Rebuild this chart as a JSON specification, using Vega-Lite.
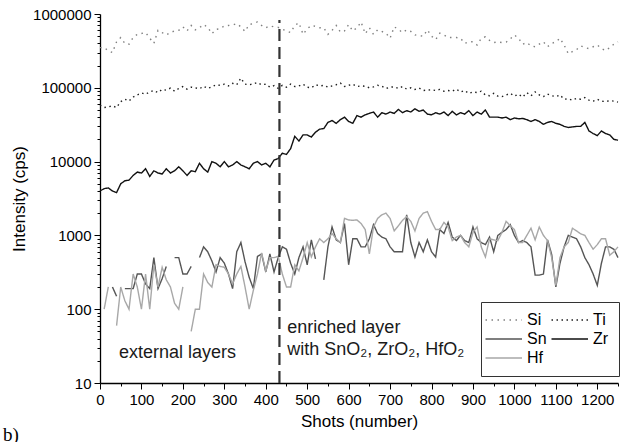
{
"$schema": "https://vega.github.io/schema/vega-lite/v6.json",
"width": 518, "height": 369,
"autosize": {"type": "none"},
"padding": {"left": 100, "top": 14, "right": 4, "bottom": 59},
"background": "#ffffff",
"config": {"view": {"stroke": null}, "font": "Liberation Sans",
 "axis": {"domainColor": "#000", "domainWidth": 1.3, "tickColor": "#000", "tickWidth": 1, "labelFont": "Liberation Sans", "labelFontSize": 15, "labelColor": "#000", "titleFont": "Liberation Sans", "titleFontSize": 17, "titleFontWeight": "normal", "titleColor": "#000", "grid": false, "labelOverlap": false, "labelFlush": false}},
"title": {"text": "b)", "orient": "bottom", "anchor": "start", "frame": "group", "font": "Liberation Serif", "fontSize": 19, "fontWeight": "normal", "color": "#000", "dx": -97, "offset": -3, "baseline": "top"},
"datasets": {
"series": [
{"shot":0,"Si":350000,"Ti":58000,"Zr":4000,"Sn":null,"Hf":null},
{"shot":10,"Si":350000,"Ti":54000,"Zr":4300,"Sn":null,"Hf":100},
{"shot":20,"Si":320000,"Ti":55000,"Zr":4400,"Sn":null,"Hf":200},
{"shot":30,"Si":300000,"Ti":57000,"Zr":4000,"Sn":200,"Hf":null},
{"shot":40,"Si":420000,"Ti":54000,"Zr":3800,"Sn":150,"Hf":60},
{"shot":50,"Si":480000,"Ti":65000,"Zr":5000,"Sn":null,"Hf":200},
{"shot":60,"Si":400000,"Ti":70000,"Zr":5500,"Sn":190,"Hf":130},
{"shot":70,"Si":390000,"Ti":66000,"Zr":5600,"Sn":190,"Hf":100},
{"shot":80,"Si":480000,"Ti":75000,"Zr":6500,"Sn":190,"Hf":300},
{"shot":90,"Si":530000,"Ti":80000,"Zr":7200,"Sn":300,"Hf":200},
{"shot":100,"Si":545000,"Ti":85000,"Zr":7000,"Sn":300,"Hf":100},
{"shot":110,"Si":560000,"Ti":82000,"Zr":8000,"Sn":220,"Hf":300},
{"shot":120,"Si":470000,"Ti":88000,"Zr":6300,"Sn":190,"Hf":100},
{"shot":130,"Si":400000,"Ti":92000,"Zr":7500,"Sn":500,"Hf":400},
{"shot":140,"Si":600000,"Ti":86000,"Zr":7000,"Sn":190,"Hf":200},
{"shot":150,"Si":560000,"Ti":95000,"Zr":6800,"Sn":260,"Hf":370},
{"shot":160,"Si":520000,"Ti":93000,"Zr":8000,"Sn":380,"Hf":250},
{"shot":170,"Si":560000,"Ti":99000,"Zr":7000,"Sn":null,"Hf":200},
{"shot":180,"Si":590000,"Ti":90000,"Zr":7500,"Sn":500,"Hf":120},
{"shot":190,"Si":600000,"Ti":98000,"Zr":8500,"Sn":500,"Hf":100},
{"shot":200,"Si":670000,"Ti":104000,"Zr":7500,"Sn":300,"Hf":200},
{"shot":210,"Si":590000,"Ti":96000,"Zr":6500,"Sn":300,"Hf":null},
{"shot":220,"Si":700000,"Ti":102000,"Zr":7500,"Sn":380,"Hf":50},
{"shot":230,"Si":610000,"Ti":100000,"Zr":7300,"Sn":null,"Hf":100},
{"shot":240,"Si":650000,"Ti":97000,"Zr":9500,"Sn":500,"Hf":100},
{"shot":250,"Si":720000,"Ti":105000,"Zr":8000,"Sn":700,"Hf":300},
{"shot":260,"Si":660000,"Ti":98000,"Zr":7200,"Sn":600,"Hf":230},
{"shot":270,"Si":540000,"Ti":103000,"Zr":10000,"Sn":450,"Hf":200},
{"shot":280,"Si":620000,"Ti":110000,"Zr":9500,"Sn":320,"Hf":400},
{"shot":290,"Si":630000,"Ti":108000,"Zr":8500,"Sn":500,"Hf":380},
{"shot":300,"Si":690000,"Ti":112000,"Zr":10000,"Sn":420,"Hf":370},
{"shot":310,"Si":700000,"Ti":106000,"Zr":8500,"Sn":300,"Hf":300},
{"shot":320,"Si":710000,"Ti":115000,"Zr":9000,"Sn":190,"Hf":220},
{"shot":330,"Si":740000,"Ti":110000,"Zr":10000,"Sn":600,"Hf":300},
{"shot":340,"Si":670000,"Ti":135000,"Zr":9000,"Sn":800,"Hf":380},
{"shot":350,"Si":580000,"Ti":112000,"Zr":8500,"Sn":440,"Hf":200},
{"shot":360,"Si":720000,"Ti":110000,"Zr":8000,"Sn":270,"Hf":100},
{"shot":370,"Si":740000,"Ti":113000,"Zr":9500,"Sn":190,"Hf":180},
{"shot":380,"Si":780000,"Ti":118000,"Zr":10000,"Sn":520,"Hf":300},
{"shot":390,"Si":700000,"Ti":110000,"Zr":9000,"Sn":560,"Hf":580},
{"shot":400,"Si":650000,"Ti":112000,"Zr":9500,"Sn":320,"Hf":330},
{"shot":410,"Si":690000,"Ti":102000,"Zr":8500,"Sn":560,"Hf":500},
{"shot":420,"Si":670000,"Ti":107000,"Zr":10500,"Sn":320,"Hf":500},
{"shot":430,"Si":660000,"Ti":98000,"Zr":11000,"Sn":500,"Hf":520},
{"shot":440,"Si":620000,"Ti":108000,"Zr":13000,"Sn":700,"Hf":300},
{"shot":450,"Si":590000,"Ti":102000,"Zr":12500,"Sn":650,"Hf":200},
{"shot":460,"Si":560000,"Ti":112000,"Zr":15000,"Sn":420,"Hf":200},
{"shot":470,"Si":700000,"Ti":104000,"Zr":22000,"Sn":300,"Hf":400},
{"shot":480,"Si":760000,"Ti":106000,"Zr":19000,"Sn":500,"Hf":330},
{"shot":490,"Si":530000,"Ti":112000,"Zr":23000,"Sn":700,"Hf":500},
{"shot":500,"Si":630000,"Ti":102000,"Zr":23000,"Sn":400,"Hf":800},
{"shot":510,"Si":700000,"Ti":100000,"Zr":21500,"Sn":870,"Hf":510},
{"shot":520,"Si":680000,"Ti":110000,"Zr":25000,"Sn":480,"Hf":700},
{"shot":530,"Si":650000,"Ti":106000,"Zr":27500,"Sn":null,"Hf":900},
{"shot":540,"Si":650000,"Ti":108000,"Zr":28000,"Sn":250,"Hf":800},
{"shot":550,"Si":530000,"Ti":102000,"Zr":34000,"Sn":700,"Hf":900},
{"shot":560,"Si":600000,"Ti":106000,"Zr":36000,"Sn":1300,"Hf":1060},
{"shot":570,"Si":700000,"Ti":110000,"Zr":33000,"Sn":870,"Hf":900},
{"shot":580,"Si":570000,"Ti":116000,"Zr":37000,"Sn":800,"Hf":800},
{"shot":590,"Si":590000,"Ti":104000,"Zr":40000,"Sn":1450,"Hf":1700},
{"shot":600,"Si":720000,"Ti":108000,"Zr":35000,"Sn":400,"Hf":1620},
{"shot":610,"Si":590000,"Ti":112000,"Zr":33000,"Sn":900,"Hf":1600},
{"shot":620,"Si":650000,"Ti":104000,"Zr":42000,"Sn":900,"Hf":1620},
{"shot":630,"Si":780000,"Ti":106000,"Zr":40000,"Sn":700,"Hf":1450},
{"shot":640,"Si":540000,"Ti":105000,"Zr":43000,"Sn":700,"Hf":1200},
{"shot":650,"Si":650000,"Ti":100000,"Zr":45000,"Sn":900,"Hf":560},
{"shot":660,"Si":530000,"Ti":103000,"Zr":47000,"Sn":1400,"Hf":1300},
{"shot":670,"Si":610000,"Ti":108000,"Zr":40000,"Sn":1060,"Hf":1700},
{"shot":680,"Si":580000,"Ti":105000,"Zr":46000,"Sn":950,"Hf":1900},
{"shot":690,"Si":550000,"Ti":98000,"Zr":44000,"Sn":900,"Hf":2000},
{"shot":700,"Si":470000,"Ti":102000,"Zr":47000,"Sn":700,"Hf":1700},
{"shot":710,"Si":670000,"Ti":103000,"Zr":45000,"Sn":600,"Hf":1150},
{"shot":720,"Si":620000,"Ti":98000,"Zr":51000,"Sn":600,"Hf":1350},
{"shot":730,"Si":560000,"Ti":104000,"Zr":46000,"Sn":600,"Hf":1600},
{"shot":740,"Si":610000,"Ti":96000,"Zr":49000,"Sn":1900,"Hf":1800},
{"shot":750,"Si":580000,"Ti":100000,"Zr":47000,"Sn":800,"Hf":1550},
{"shot":760,"Si":520000,"Ti":95000,"Zr":52000,"Sn":510,"Hf":1150},
{"shot":770,"Si":510000,"Ti":99000,"Zr":48000,"Sn":800,"Hf":1700},
{"shot":780,"Si":500000,"Ti":92000,"Zr":50000,"Sn":600,"Hf":2000},
{"shot":790,"Si":610000,"Ti":93000,"Zr":44000,"Sn":870,"Hf":2100},
{"shot":800,"Si":500000,"Ti":94000,"Zr":43000,"Sn":600,"Hf":1550},
{"shot":810,"Si":450000,"Ti":92000,"Zr":46000,"Sn":510,"Hf":1200},
{"shot":820,"Si":550000,"Ti":95000,"Zr":44000,"Sn":1200,"Hf":1200},
{"shot":830,"Si":520000,"Ti":90000,"Zr":47000,"Sn":1060,"Hf":1500},
{"shot":840,"Si":480000,"Ti":92000,"Zr":42000,"Sn":1500,"Hf":1300},
{"shot":850,"Si":480000,"Ti":90000,"Zr":48000,"Sn":950,"Hf":850},
{"shot":860,"Si":480000,"Ti":96000,"Zr":43000,"Sn":850,"Hf":950},
{"shot":870,"Si":470000,"Ti":88000,"Zr":46000,"Sn":1000,"Hf":1000},
{"shot":880,"Si":400000,"Ti":92000,"Zr":44000,"Sn":850,"Hf":800},
{"shot":890,"Si":420000,"Ti":84000,"Zr":49000,"Sn":800,"Hf":700},
{"shot":900,"Si":420000,"Ti":88000,"Zr":42000,"Sn":1300,"Hf":1100},
{"shot":910,"Si":380000,"Ti":86000,"Zr":47000,"Sn":900,"Hf":1300},
{"shot":920,"Si":470000,"Ti":90000,"Zr":44000,"Sn":800,"Hf":700},
{"shot":930,"Si":490000,"Ti":80000,"Zr":50000,"Sn":750,"Hf":510},
{"shot":940,"Si":440000,"Ti":78000,"Zr":40000,"Sn":950,"Hf":900},
{"shot":950,"Si":410000,"Ti":84000,"Zr":40000,"Sn":600,"Hf":870},
{"shot":960,"Si":420000,"Ti":77000,"Zr":40000,"Sn":1000,"Hf":850},
{"shot":970,"Si":410000,"Ti":76000,"Zr":39000,"Sn":1100,"Hf":1100},
{"shot":980,"Si":415000,"Ti":80000,"Zr":40000,"Sn":1200,"Hf":1550},
{"shot":990,"Si":460000,"Ti":84000,"Zr":37000,"Sn":1400,"Hf":1350},
{"shot":1000,"Si":520000,"Ti":77000,"Zr":39000,"Sn":1000,"Hf":1200},
{"shot":1010,"Si":470000,"Ti":82000,"Zr":38000,"Sn":800,"Hf":800},
{"shot":1020,"Si":390000,"Ti":75000,"Zr":38500,"Sn":850,"Hf":800},
{"shot":1030,"Si":410000,"Ti":86000,"Zr":37000,"Sn":800,"Hf":1000},
{"shot":1040,"Si":370000,"Ti":78000,"Zr":35000,"Sn":700,"Hf":1250},
{"shot":1050,"Si":360000,"Ti":88000,"Zr":37000,"Sn":290,"Hf":870},
{"shot":1060,"Si":390000,"Ti":80000,"Zr":35000,"Sn":290,"Hf":1300},
{"shot":1070,"Si":420000,"Ti":76000,"Zr":32000,"Sn":300,"Hf":1000},
{"shot":1080,"Si":360000,"Ti":82000,"Zr":34000,"Sn":870,"Hf":850},
{"shot":1090,"Si":400000,"Ti":78000,"Zr":35000,"Sn":550,"Hf":500},
{"shot":1100,"Si":420000,"Ti":76000,"Zr":33000,"Sn":200,"Hf":210},
{"shot":1110,"Si":470000,"Ti":80000,"Zr":32000,"Sn":420,"Hf":500},
{"shot":1120,"Si":380000,"Ti":70000,"Zr":30000,"Sn":700,"Hf":700},
{"shot":1130,"Si":290000,"Ti":71000,"Zr":29000,"Sn":1000,"Hf":800},
{"shot":1140,"Si":310000,"Ti":68000,"Zr":29500,"Sn":950,"Hf":1250},
{"shot":1150,"Si":330000,"Ti":72000,"Zr":30000,"Sn":900,"Hf":1150},
{"shot":1160,"Si":370000,"Ti":70000,"Zr":30000,"Sn":700,"Hf":1050},
{"shot":1170,"Si":350000,"Ti":74000,"Zr":34000,"Sn":500,"Hf":1000},
{"shot":1180,"Si":340000,"Ti":68000,"Zr":26000,"Sn":400,"Hf":800},
{"shot":1190,"Si":360000,"Ti":66000,"Zr":24000,"Sn":300,"Hf":650},
{"shot":1200,"Si":380000,"Ti":70000,"Zr":22500,"Sn":210,"Hf":750},
{"shot":1210,"Si":340000,"Ti":66000,"Zr":26000,"Sn":420,"Hf":900},
{"shot":1220,"Si":320000,"Ti":65000,"Zr":24000,"Sn":700,"Hf":900},
{"shot":1230,"Si":350000,"Ti":67000,"Zr":23000,"Sn":700,"Hf":540},
{"shot":1240,"Si":390000,"Ti":66000,"Zr":20000,"Sn":650,"Hf":600},
{"shot":1250,"Si":420000,"Ti":64000,"Zr":19500,"Sn":500,"Hf":700}
],
"boundary": [{"shot": 433, "intensity": 10, "top": 830000}],
"notes": [
{"shot": 46, "intensity": 21.8, "label": "external layers"},
{"shot": 452, "intensity": 47.6, "label": "enriched layer"},
{"shot": 452, "intensity": 24, "label": "with SnO₂, ZrO₂, HfO₂"}
]
},
"encoding": {
 "x": {"field": "shot", "type": "quantitative", "title": "Shots (number)",
  "scale": {"domain": [0, 1250], "nice": false, "zero": false},
  "axis": {"values": [0,50,100,150,200,250,300,350,400,450,500,550,600,650,700,750,800,850,900,950,1000,1050,1100,1150,1200,1250],
   "labelExpr": "datum.value % 100 === 0 ? datum.label : ''",
   "tickSize": {"condition": {"test": "datum.value % 100 === 0", "value": 6}, "value": 3},
   "labelPadding": 3, "titlePadding": 6, "format": "d"}},
 "y": {"field": "intensity", "type": "quantitative", "title": "Intensity (cps)",
  "scale": {"type": "log", "domain": [10, 1000000], "nice": false},
  "axis": {"values": [10,20,30,40,50,60,70,80,90,100,200,300,400,500,600,700,800,900,1000,2000,3000,4000,5000,6000,7000,8000,9000,10000,20000,30000,40000,50000,60000,70000,80000,90000,100000,200000,300000,400000,500000,600000,700000,800000,900000,1000000],
   "labelExpr": "indexof([10,100,1000,10000,100000,1000000], datum.value) >= 0 ? format(datum.value, 'd') : ''",
   "tickSize": {"condition": {"test": "indexof([10,100,1000,10000,100000,1000000], datum.value) >= 0", "value": 6}, "value": 3},
   "labelPadding": 3, "titlePadding": 4}}
},
"layer": [
 {"data": {"name": "series"},
  "transform": [{"fold": ["Si", "Ti", "Sn", "Zr", "Hf"], "as": ["element", "intensity"]}],
  "mark": {"type": "line", "strokeWidth": 1.4, "invalid": "break-paths-filter-domains", "strokeCap": "butt"},
  "encoding": {
   "color": {"field": "element", "type": "nominal",
    "scale": {"domain": ["Si", "Ti", "Sn", "Zr", "Hf"], "range": ["#808080", "#1e1e1e", "#555555", "#111111", "#a8a8a8"]},
    "legend": {"orient": "none", "legendX": 381, "legendY": 288, "columns": 2, "direction": "horizontal", "title": null, "strokeColor": "#333", "fillColor": "#fff", "padding": 10, "symbolType": "M-2.7,0H4.6", "symbolSize": 100, "symbolStrokeWidth": 1.3, "labelFontSize": 16, "labelFont": "Liberation Sans", "labelOffset": 20, "rowPadding": 3, "columnPadding": 1, "labelColor": "#000"}},
   "strokeDash": {"field": "element", "type": "nominal",
    "scale": {"domain": ["Si", "Ti", "Sn", "Zr", "Hf"], "range": [[1.5, 4.5], [1.5, 3.5], [1, 0], [1, 0], [1, 0]]},
    "legend": {"orient": "none", "legendX": 381, "legendY": 288, "columns": 2, "direction": "horizontal", "title": null, "strokeColor": "#333", "fillColor": "#fff", "padding": 10, "symbolType": "M-2.7,0H4.6", "symbolSize": 100, "symbolStrokeWidth": 1.3, "labelFontSize": 16, "labelFont": "Liberation Sans", "labelOffset": 20, "rowPadding": 3, "columnPadding": 1, "labelColor": "#000"}}
  }},
 {"data": {"name": "boundary"},
  "mark": {"type": "rule", "strokeDash": [12, 6], "strokeWidth": 2.2, "color": "#333"},
  "encoding": {"y2": {"field": "top"}}},
 {"data": {"name": "notes"},
  "mark": {"type": "text", "align": "left", "baseline": "alphabetic", "fontSize": 18, "font": "Liberation Sans", "color": "#1a1a1a"},
  "encoding": {"text": {"field": "label"}}}
]
}
